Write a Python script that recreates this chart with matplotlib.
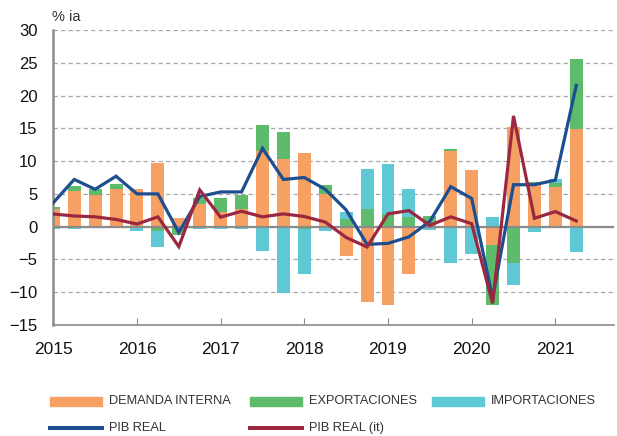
import numpy as np
import matplotlib
matplotlib.use('Agg')
import matplotlib.pyplot as plt
from matplotlib.patches import Rectangle
from matplotlib.lines import Line2D

plt.rcParams['font.family'] = ['Liberation Sans', 'DejaVu Sans']

# trimestres 2015T1 - 2021T2
years = ['2015', '2016', '2017', '2018', '2019', '2020', '2021']
demanda = [2.7, 5.5, 4.8, 5.8, 5.7, 9.75, 1.25, 3.5, 2.2, 2.75, 11.5, 10.3, 11.2, 5.0,
           -4.4, -11.5, -12.0, -7.25, 0.2, 11.6, 8.65, -2.8, 15.2, 6.6, 6.1, 14.85]
export = [0.35, 0.7, 0.9, 0.7, 0.0, -0.65, -1.3, 0.9, 2.1, 2.05, 3.95, 4.15, -0.35, 1.3,
          1.2, 2.7, 2.0, 1.4, 1.5, 0.2, 0.0, -9.15, -5.5, 0.25, 0.6, 10.65]
import_ = [-0.35, -0.3, -0.2, -0.2, -0.65, -2.4, 0.0, -0.4, -0.35, -0.3, -3.65, -10.05, -6.85, -0.6,
           1.1, 6.15, 7.6, 4.3, -0.5, -5.6, -4.2, 1.5, -3.4, -0.75, 0.5, -3.8]
pib = [3.66, 7.2, 5.7, 7.7, 5.0, 5.0, -0.9, 4.6, 5.3, 5.3, 11.95, 7.2, 7.5, 5.7,
       2.55, -2.7, -2.55, -1.55, 0.8, 6.1, 4.3, -10.9, 6.4, 6.4, 7.1, 21.55]
pib_it = [1.93, 1.63, 1.5, 1.1, 0.4, 1.5, -3.05, 5.6, 1.45, 2.35, 1.5, 1.95, 1.55, 0.7,
          -1.65, -3.1, 1.95, 2.45, 0.2, 1.5, 0.45, -11.7, 16.9, 1.28, 2.3, 0.87]

c_dem = '#F7A064'
c_exp = '#5DBB6B'
c_imp = '#5FC8D5'
c_pib = '#1D4E8F'
c_it = '#9B2740'
grey = '#8C8C8C'

fig = plt.figure(figsize=(6.17, 4.36), dpi=100)
ax = fig.add_axes([0.0864, 0.2546, 0.9086, 0.6766])

x = np.arange(len(demanda))
pos_base = np.zeros(len(x))
neg_base = np.zeros(len(x))
w = 0.62
for vals, col in [(demanda, c_dem), (export, c_exp), (import_, c_imp)]:
    v = np.array(vals)
    base = np.where(v >= 0, pos_base, neg_base)
    ax.bar(x, v, w, bottom=base, color=col, edgecolor='none', zorder=2)
    pos_base = pos_base + np.where(v > 0, v, 0)
    neg_base = neg_base + np.where(v < 0, v, 0)

ax.axhline(0, color=grey, lw=1.6, zorder=3)
ax.plot(x, pib, color=c_pib, lw=2.3, zorder=4, solid_joinstyle='miter')
ax.plot(x, pib_it, color=c_it, lw=2.3, zorder=5, solid_joinstyle='miter')

ax.set_ylim(-15, 30)
ax.set_xlim(0, 26.8)
ax.set_yticks(np.arange(-15, 31, 5))
ax.yaxis.grid(True, color='#A8A8A8', ls=(0, (3.5, 2.5)), lw=0.9, zorder=0)
ax.tick_params(axis='y', length=0, pad=11.5, labelsize=12, labelcolor='#111111')
ax.set_xticks(np.arange(0, 26, 4))
ax.set_xticklabels(years)
ax.tick_params(axis='x', direction='in', length=5, color=grey, pad=12, labelsize=12.5,
               labelcolor='#111111')
for s in ['top', 'right']:
    ax.spines[s].set_visible(False)
ax.spines['left'].set_color(grey)
ax.spines['left'].set_linewidth(1.8)
ax.spines['bottom'].set_color(grey)
ax.spines['bottom'].set_linewidth(1.2)

fig.text(52 / 617, 1 - 17 / 436, '% ia', fontsize=10.5, color='#333333', ha='left', va='center')

# leyenda manual (posiciones en pixeles)
W, H = 617.0, 436.0
items = [('DEMANDA INTERNA', c_dem, 'bar', 50, 401), ('EXPORTACIONES', c_exp, 'bar', 250, 401),
         ('IMPORTACIONES', c_imp, 'bar', 432, 401), ('PIB REAL', c_pib, 'line', 50, 428),
         ('PIB REAL (it)', c_it, 'line', 250, 428)]
for lab, col, kind, px, py in items:
    if kind == 'bar':
        fig.add_artist(Rectangle((px / W, 1 - (py + 4.5) / H), 52 / W, 9 / H,
                                 transform=fig.transFigure, color=col))
    else:
        fig.add_artist(Line2D([px / W, (px + 52) / W], [1 - py / H, 1 - py / H],
                              transform=fig.transFigure, color=col, lw=2.9))
    fig.text((px + 59) / W, 1 - py / H, lab, fontsize=9.2, color='#333333',
             ha='left', va='center')

fig.savefig('out.png', dpi=100)
